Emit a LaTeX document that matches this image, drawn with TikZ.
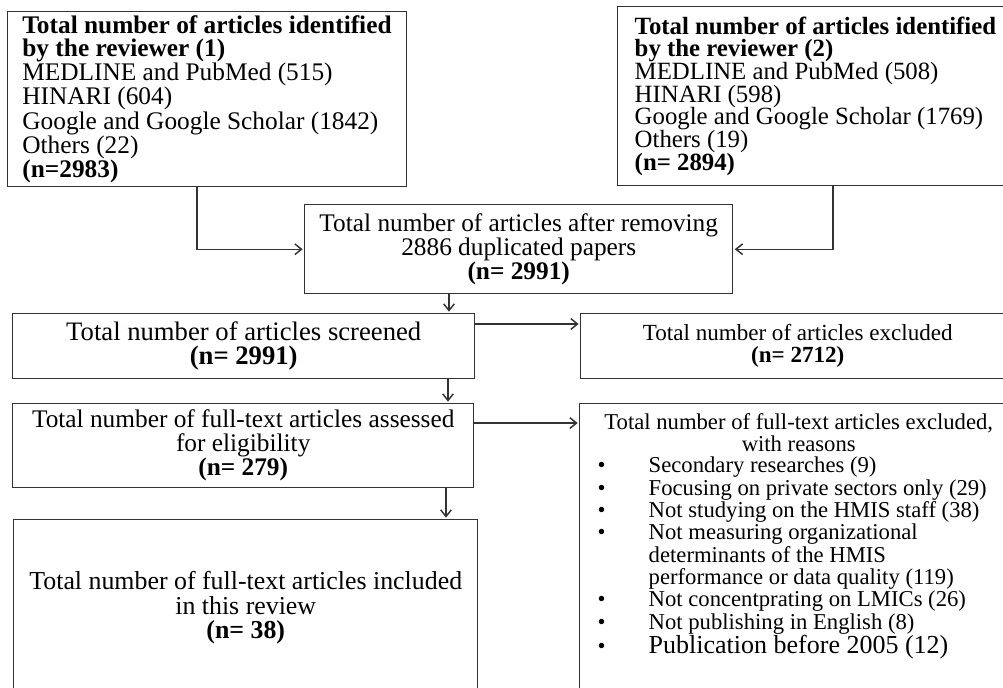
\documentclass[tikz,border=0pt]{standalone}
\usepackage{fontspec}
\setmainfont{Liberation Serif}
\usetikzlibrary{arrows.meta}

\begin{document}
\begin{tikzpicture}[x=0.75pt,y=-0.75pt,shorten >=1pt,draw=black!80,line width=1.1pt,
	box/.style={rectangle, draw, anchor=north west, align=center, inner sep=2pt},
	arr/.style={-{Straight Barb[length=5pt,width=8pt]}},
	big/.style={font=\fontsize{19}{18}\selectfont}]
	\useasboundingbox (0,0) rectangle (1003,687);
	\node (rev1) at (7,11)	[box, align=flush left, text width=277pt, inner xsep=11pt, minimum height=131.25pt, font=\fontsize{19}{17.1}\selectfont]
		{\mbox{\textbf{Total number of articles identified}}\\ \textbf{by the reviewer (1)}\\ MEDLINE and PubMed (515)\\ HINARI (604)\\ Google and Google Scholar (1842)\\ Others (22)\\ \textbf{(n=2983)}};
	\node (rev2) at (617,6)	[box, align=flush left, text width=270.75pt, inner xsep=12.75pt, minimum height=134.25pt, font=\fontsize{18.6}{17}\selectfont]
		{\mbox{\textbf{Total number of articles identified}}\\ \textbf{by the reviewer (2)}\\ MEDLINE and PubMed (508)\\ HINARI (598)\\ Google and Google Scholar (1769)\\ Others (19)\\ \textbf{(n= 2894)}};
	\node (dup) at (304,204)	[box, big, minimum width=321pt, minimum height=66.75pt]
		{Total number of articles after removing\\ 2886 duplicated papers\\ \textbf{(n= 2991)}};
	\node (screened) at (12,313)	[box, minimum width=346.5pt, minimum height=48.75pt, font=\fontsize{20}{18}\selectfont]
		{Total number of articles screened\\ \textbf{(n= 2991)}};
	\node (excluded) at (580,313)	[box, minimum width=325.5pt, minimum height=48.75pt, font=\fontsize{17.3}{16.5}\selectfont]
		{Total number of articles excluded\\ \textbf{(n= 2712)}};
	\node (fulltext) at (12,403)	[box, big, minimum width=345.75pt, minimum height=63pt]
		{Total number of full-text articles assessed\\ for eligibility\\ \textbf{(n= 279)}};
	\node (included) at (13,519)	[box, minimum width=348pt, minimum height=132pt, font=\fontsize{19.4}{18.4}\selectfont]
		{Total number of full-text articles included\\ in this review\\ \textbf{(n= 38)}};
	\node (reasons) at (579,403)	[draw, anchor=north west, inner xsep=0pt, inner ysep=7.5pt]
		{\begin{minipage}[t][225pt][t]{328.5pt}
		\fontsize{17}{16.2}\selectfont
		\centering Total number of full-text articles excluded,\\ with reasons\par
		\raggedright
		\begin{tabular}[t]{@{\hspace{13.5pt}}p{38.25pt}@{}l@{}}
		\textbullet & Secondary researches (9)\\
		\textbullet & Focusing on private sectors only (29)\\
		\textbullet & Not studying on the HMIS staff (38)\\
		\textbullet & Not measuring organizational\\
		 & determinants of the HMIS\\
		 & performance or data quality (119)\\
		\textbullet & Not concentprating on LMICs (26)\\
		\textbullet & Not publishing in English (8)\\
		\textbullet & {\fontsize{19.5}{16.2}\selectfont Publication before 2005 (12)}
		\end{tabular}
		\end{minipage}};
	\draw[arr] ([xshift=142.5pt]rev1.south west) |- (dup.west);
	\draw[arr] ([xshift=162pt]rev2.south west) |- (dup.east);
	\draw[arr] ([xshift=108.75pt]dup.south west) -- ([xshift=108.75pt]dup.south west |- screened.north);
	\draw[arr] ([yshift=-8.25pt]screened.north east) -- ([yshift=-8.25pt]excluded.north west);
	\draw[arr] ([xshift=327pt]screened.south west) -- ([xshift=327pt]screened.south west |- fulltext.north);
	\draw[arr] ([yshift=-15pt]fulltext.north east) -- ([yshift=-15pt]reasons.north west);
	\draw[arr] ([xshift=325.5pt]fulltext.south west) -- ([xshift=325.5pt]fulltext.south west |- included.north);
\end{tikzpicture}
\end{document}
